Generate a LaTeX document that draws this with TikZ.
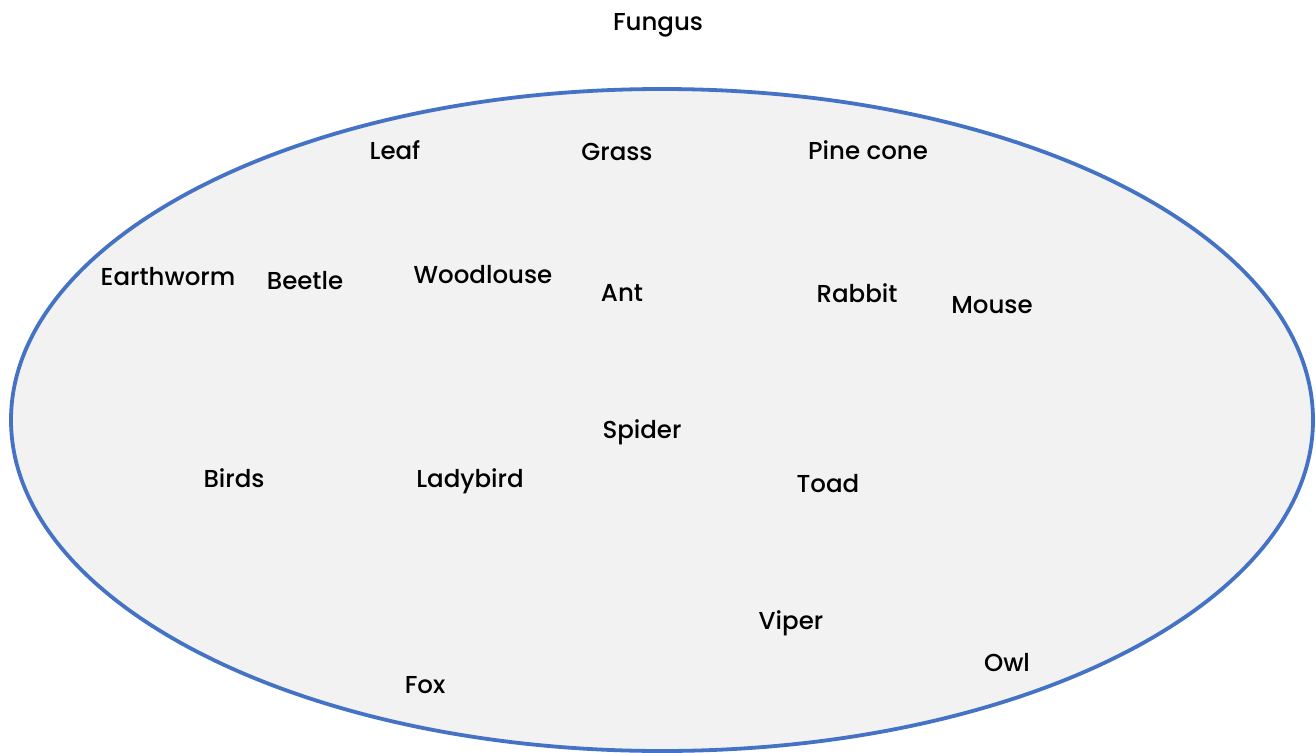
\documentclass[tikz,border=0pt]{standalone}
\usepackage{fontspec}
\setmainfont{Poppins}[UprightFont=* Medium]
\definecolor{ringblue}{HTML}{4472C4}
\definecolor{ringfill}{HTML}{F2F2F2}
\begin{document}
\begin{tikzpicture}[x=1pt,y=-1pt,
  lbl/.style={font=\fontsize{24.5}{28}\selectfont, anchor=mid, inner sep=0pt, text=black, yshift=-6pt}]
\useasboundingbox (0,0) rectangle (1316,752);
\draw[ringblue, fill=ringfill, line width=3.8pt] (662,420) ellipse [x radius=651, y radius=331];
\node[lbl] (fungus) at (658,22) {Fungus};
\node[lbl] (leaf) at (395,151) {Leaf};
\node[lbl] (grass) at (617,152) {Grass};
\node[lbl] (pinecone) at (868,151) {Pine cone};
\node[lbl] (earthworm) at (168,277) {Earthworm};
\node[lbl] (beetle) at (305,281) {Beetle};
\node[lbl] (woodlouse) at (483,275) {Woodlouse};
\node[lbl] (ant) at (622,293) {Ant};
\node[lbl] (rabbit) at (857,294) {Rabbit};
\node[lbl] (mouse) at (992,305) {Mouse};
\node[lbl] (spider) at (642,430) {Spider};
\node[lbl] (birds) at (234,479) {Birds};
\node[lbl] (ladybird) at (470,479) {Ladybird};
\node[lbl] (toad) at (828,484) {Toad};
\node[lbl] (viper) at (791,621) {Viper};
\node[lbl] (owl) at (1007,663) {Owl};
\node[lbl] (fox) at (425,685) {Fox};
\end{tikzpicture}
\end{document}
